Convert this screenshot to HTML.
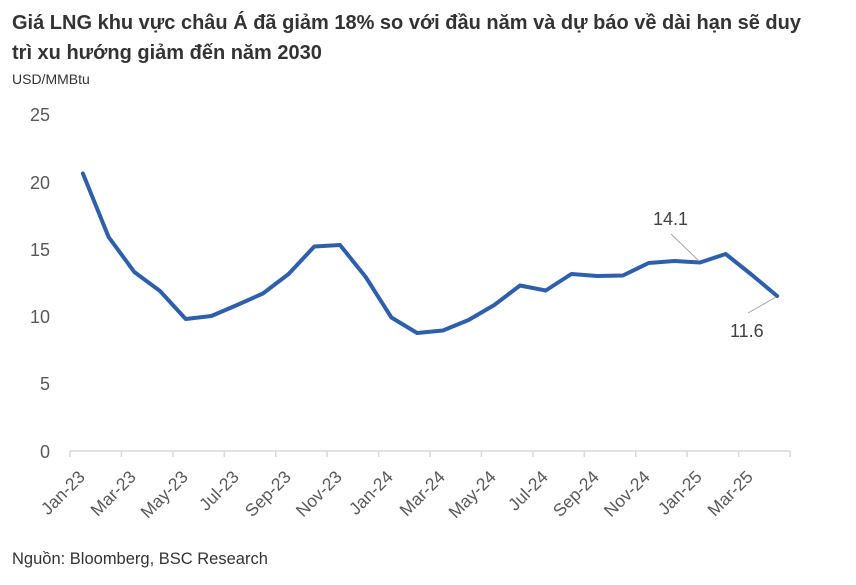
<!DOCTYPE html>
<html><head><meta charset="utf-8"><style>
body{margin:0;background:#fff;width:856px;height:580px;overflow:hidden;font-family:"Liberation Sans",sans-serif}
</style></head><body>
<svg width="856" height="580" xmlns="http://www.w3.org/2000/svg" font-family="Liberation Sans, sans-serif">
<text x="12" y="29" font-size="20" font-weight="bold" fill="#333">Giá LNG khu vực châu Á đã giảm 18% so với đầu năm và dự báo về dài hạn sẽ duy</text>
<text x="12" y="59" font-size="20" font-weight="bold" fill="#333">trì xu hướng giảm đến năm 2030</text>
<text x="12" y="84" font-size="14" fill="#333">USD/MMBtu</text>
<g font-size="18" fill="#595959" text-anchor="end">
<text x="50" y="121">25</text><text x="50" y="189">20</text><text x="50" y="256">15</text>
<text x="50" y="323">10</text><text x="50" y="390">5</text><text x="50" y="458">0</text>
</g>
<line x1="70" y1="451" x2="790" y2="451" stroke="#d9d9d9" stroke-width="1.5"/>
<g stroke="#d9d9d9" stroke-width="1.5">
<line x1="70" y1="451" x2="70" y2="457"/><line x1="121.4" y1="451" x2="121.4" y2="457"/><line x1="172.9" y1="451" x2="172.9" y2="457"/><line x1="224.3" y1="451" x2="224.3" y2="457"/><line x1="275.7" y1="451" x2="275.7" y2="457"/><line x1="327.1" y1="451" x2="327.1" y2="457"/><line x1="378.6" y1="451" x2="378.6" y2="457"/><line x1="430" y1="451" x2="430" y2="457"/><line x1="481.4" y1="451" x2="481.4" y2="457"/><line x1="532.9" y1="451" x2="532.9" y2="457"/><line x1="584.3" y1="451" x2="584.3" y2="457"/><line x1="635.7" y1="451" x2="635.7" y2="457"/><line x1="687.1" y1="451" x2="687.1" y2="457"/><line x1="738.6" y1="451" x2="738.6" y2="457"/><line x1="790" y1="451" x2="790" y2="457"/>
</g>
<g font-size="17.5" fill="#595959" text-anchor="end">
<text transform="translate(86,478) rotate(-45)">Jan-23</text>
<text transform="translate(137,478) rotate(-45)">Mar-23</text>
<text transform="translate(189,478) rotate(-45)">May-23</text>
<text transform="translate(240,478) rotate(-45)">Jul-23</text>
<text transform="translate(292,478) rotate(-45)">Sep-23</text>
<text transform="translate(343,478) rotate(-45)">Nov-23</text>
<text transform="translate(394,478) rotate(-45)">Jan-24</text>
<text transform="translate(446,478) rotate(-45)">Mar-24</text>
<text transform="translate(497,478) rotate(-45)">May-24</text>
<text transform="translate(549,478) rotate(-45)">Jul-24</text>
<text transform="translate(600,478) rotate(-45)">Sep-24</text>
<text transform="translate(651,478) rotate(-45)">Nov-24</text>
<text transform="translate(703,478) rotate(-45)">Jan-25</text>
<text transform="translate(754,478) rotate(-45)">Mar-25</text>
</g>
<polyline fill="none" stroke="#2e5fac" stroke-width="4" stroke-linejoin="round" stroke-linecap="round"
points="82.9,173.5 108.6,237 134.3,272 160,291 185.7,319 211.4,316 237.1,305 262.9,293.5 288.6,274 314.3,246.5 340,245 365.7,277 391.4,317.5 417.1,333 442.9,330.5 468.6,320 494.3,305 520,285.5 545.7,290.5 571.4,274 597.1,276 622.9,275.5 648.6,263 674.3,261 700,262.5 725.7,254 751.4,274.5 777.1,296"/>
<line x1="671" y1="234" x2="699" y2="261" stroke="#a6a6a6" stroke-width="1"/>
<line x1="748" y1="313" x2="776" y2="297" stroke="#a6a6a6" stroke-width="1"/>
<g font-size="18" fill="#404040">
<text x="653" y="225">14.1</text>
<text x="730" y="337">11.6</text>
</g>
<text x="12" y="564" font-size="16.5" fill="#333">Nguồn: Bloomberg, BSC Research</text>
</svg>
</body></html>
